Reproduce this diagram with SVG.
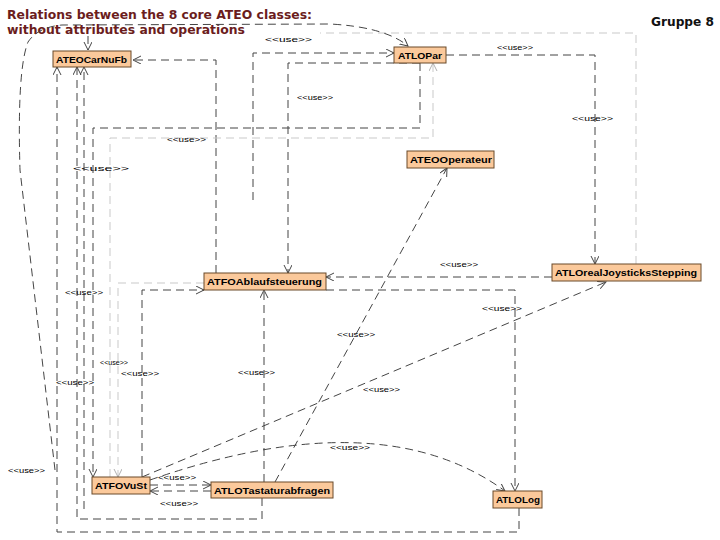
<svg xmlns="http://www.w3.org/2000/svg" width="720" height="540" viewBox="0 0 720 540">
<style>
.bg{fill:#ffffff}
.box{fill:#fbc99b;stroke:#6a4a2a;stroke-width:1}
.nt{font-family:"Liberation Sans",Arial,sans-serif;font-weight:bold;font-size:9px;fill:#000}
.c{fill:none;stroke:#454545;stroke-width:1;stroke-dasharray:8,5}
.f{fill:none;stroke:#c9c9c9;stroke-width:1;stroke-dasharray:8,5}
.lb{font-family:"Liberation Sans",Arial,sans-serif;font-size:7px;fill:#000}
.title{font-family:"DejaVu Sans",Verdana,sans-serif;font-weight:bold;font-size:13px;fill:#6b1d1d}
</style>
<defs>
<marker id="a" markerUnits="userSpaceOnUse" markerWidth="9" markerHeight="9" refX="8" refY="4" orient="auto"><path d="M0,0 L8,4 L0,8" fill="none" stroke="#454545" stroke-width="1"/></marker>
<marker id="af" markerUnits="userSpaceOnUse" markerWidth="9" markerHeight="9" refX="8" refY="4" orient="auto"><path d="M0,0 L8,4 L0,8" fill="none" stroke="#b0b0b0" stroke-width="1"/></marker>
</defs>
<rect class="bg" x="0" y="0" width="720" height="540"/>
<text class="title" x="7" y="19" textLength="305" lengthAdjust="spacingAndGlyphs">Relations between the 8 core ATEO classes:</text>
<text class="title" x="7" y="34" textLength="238" lengthAdjust="spacingAndGlyphs">without attributes and operations</text>
<text x="651" y="26" font-family="DejaVu Sans,Verdana,sans-serif" font-weight="bold" font-size="12" fill="#111" textLength="63" lengthAdjust="spacingAndGlyphs">Gruppe 8</text>
<g id="connectors">
<path class="f" d="M636,264 V33 H320"/>
<path class="c" d="M55,470 L20,170 Q17,70 28,42 Q38,27 62,25 L330,24 Q385,27 408,46" marker-end="url(#a)"/>
<path class="c" d="M88,36 V50" marker-end="url(#a)"/>
<path class="c" d="M216,273 V60 H133" marker-end="url(#a)"/>
<path class="c" d="M253,200 V53 H394" marker-end="url(#a)"/>
<path class="c" d="M420,63 H288 V273" marker-end="url(#a)"/>
<path class="c" d="M420,63 V128 H93 V477" marker-end="url(#a)"/>
<path class="f" d="M110,477 V138 H433 V63" marker-end="url(#af)"/>
<path class="c" d="M446,55 H595 V264" marker-end="url(#a)"/>
<path class="c" d="M552,277 H326" marker-end="url(#a)"/>
<path class="c" d="M326,290 H515 V491" marker-end="url(#a)"/>
<path class="c" d="M142,477 V290 H204" marker-end="url(#a)"/>
<path class="f" d="M204,283 H118 V477" marker-end="url(#af)"/>
<path class="c" d="M264,482 V290" marker-end="url(#a)"/>
<path class="c" d="M262,498 V519 H77 V67" marker-end="url(#a)"/>
<path class="c" d="M519,508 V532 H57 V67" marker-end="url(#a)"/>
<path class="c" d="M84,509 V67" marker-end="url(#a)"/>
<path class="c" d="M275,482 L447,168" marker-end="url(#a)"/>
<path class="c" d="M142,477 L606,282" marker-end="url(#a)"/>
<path class="c" d="M150,480 Q380,400 505,491" marker-end="url(#a)"/>
<path class="c" d="M150,485 H211" marker-end="url(#a)"/>
<path class="c" d="M211,491 H150" marker-end="url(#a)"/>
<g>
<text class="lb" x="265" y="42" textLength="47" lengthAdjust="spacingAndGlyphs">&lt;&lt;use&gt;&gt;</text>
<text class="lb" x="497" y="50" textLength="36" lengthAdjust="spacingAndGlyphs">&lt;&lt;use&gt;&gt;</text>
<text class="lb" x="572" y="121" textLength="41" lengthAdjust="spacingAndGlyphs">&lt;&lt;use&gt;&gt;</text>
<text class="lb" x="297" y="100" textLength="36" lengthAdjust="spacingAndGlyphs">&lt;&lt;use&gt;&gt;</text>
<text class="lb" x="167" y="142" textLength="39" lengthAdjust="spacingAndGlyphs">&lt;&lt;use&gt;&gt;</text>
<text class="lb" x="73" y="171" textLength="56" lengthAdjust="spacingAndGlyphs">&lt;&lt;use&gt;&gt;</text>
<text class="lb" x="440" y="267" textLength="38" lengthAdjust="spacingAndGlyphs">&lt;&lt;use&gt;&gt;</text>
<text class="lb" x="65" y="295" textLength="38" lengthAdjust="spacingAndGlyphs">&lt;&lt;use&gt;&gt;</text>
<text class="lb" x="482" y="311" textLength="40" lengthAdjust="spacingAndGlyphs">&lt;&lt;use&gt;&gt;</text>
<text class="lb" x="337" y="337" textLength="38" lengthAdjust="spacingAndGlyphs">&lt;&lt;use&gt;&gt;</text>
<text class="lb" x="100" y="365" textLength="28" lengthAdjust="spacingAndGlyphs">&lt;&lt;use&gt;&gt;</text>
<text class="lb" x="121" y="376" textLength="38" lengthAdjust="spacingAndGlyphs">&lt;&lt;use&gt;&gt;</text>
<text class="lb" x="56" y="385" textLength="38" lengthAdjust="spacingAndGlyphs">&lt;&lt;use&gt;&gt;</text>
<text class="lb" x="238" y="375" textLength="37" lengthAdjust="spacingAndGlyphs">&lt;&lt;use&gt;&gt;</text>
<text class="lb" x="363" y="392" textLength="37" lengthAdjust="spacingAndGlyphs">&lt;&lt;use&gt;&gt;</text>
<text class="lb" x="330" y="450" textLength="40" lengthAdjust="spacingAndGlyphs">&lt;&lt;use&gt;&gt;</text>
<text class="lb" x="8" y="473" textLength="37" lengthAdjust="spacingAndGlyphs">&lt;&lt;use&gt;&gt;</text>
<text class="lb" x="158" y="480" textLength="38" lengthAdjust="spacingAndGlyphs">&lt;&lt;use&gt;&gt;</text>
<text class="lb" x="160" y="506" textLength="38" lengthAdjust="spacingAndGlyphs">&lt;&lt;use&gt;&gt;</text>
</g>
</g>
<g id="ATEOCarNuFb"><rect class="box" x="53" y="51" width="78" height="16"/><text class="nt" x="56" y="63" textLength="71" lengthAdjust="spacingAndGlyphs">ATEOCarNuFb</text></g>
<g id="ATLOPar"><rect class="box" x="394" y="47" width="52" height="16"/><text class="nt" x="398" y="59" textLength="44" lengthAdjust="spacingAndGlyphs">ATLOPar</text></g>
<g id="ATEOOperateur"><rect class="box" x="407" y="151" width="87" height="17"/><text class="nt" x="410" y="163" textLength="82" lengthAdjust="spacingAndGlyphs">ATEOOperateur</text></g>
<g id="ATFOAblaufsteuerung"><rect class="box" x="204" y="273" width="122" height="17"/><text class="nt" x="207" y="285" textLength="115" lengthAdjust="spacingAndGlyphs">ATFOAblaufsteuerung</text></g>
<g id="ATLOrealJoysticksStepping"><rect class="box" x="552" y="264" width="149" height="17"/><text class="nt" x="555" y="276" textLength="142" lengthAdjust="spacingAndGlyphs">ATLOrealJoysticksStepping</text></g>
<g id="ATFOVuSt"><rect class="box" x="92" y="477" width="58" height="17"/><text class="nt" x="95" y="489" textLength="52" lengthAdjust="spacingAndGlyphs">ATFOVuSt</text></g>
<g id="ATLOTastaturabfragen"><rect class="box" x="211" y="482" width="122" height="16"/><text class="nt" x="214" y="494" textLength="116" lengthAdjust="spacingAndGlyphs">ATLOTastaturabfragen</text></g>
<g id="ATLOLog"><rect class="box" x="493" y="491" width="49" height="17"/><text class="nt" x="496" y="503" textLength="44" lengthAdjust="spacingAndGlyphs">ATLOLog</text></g>
</svg>
